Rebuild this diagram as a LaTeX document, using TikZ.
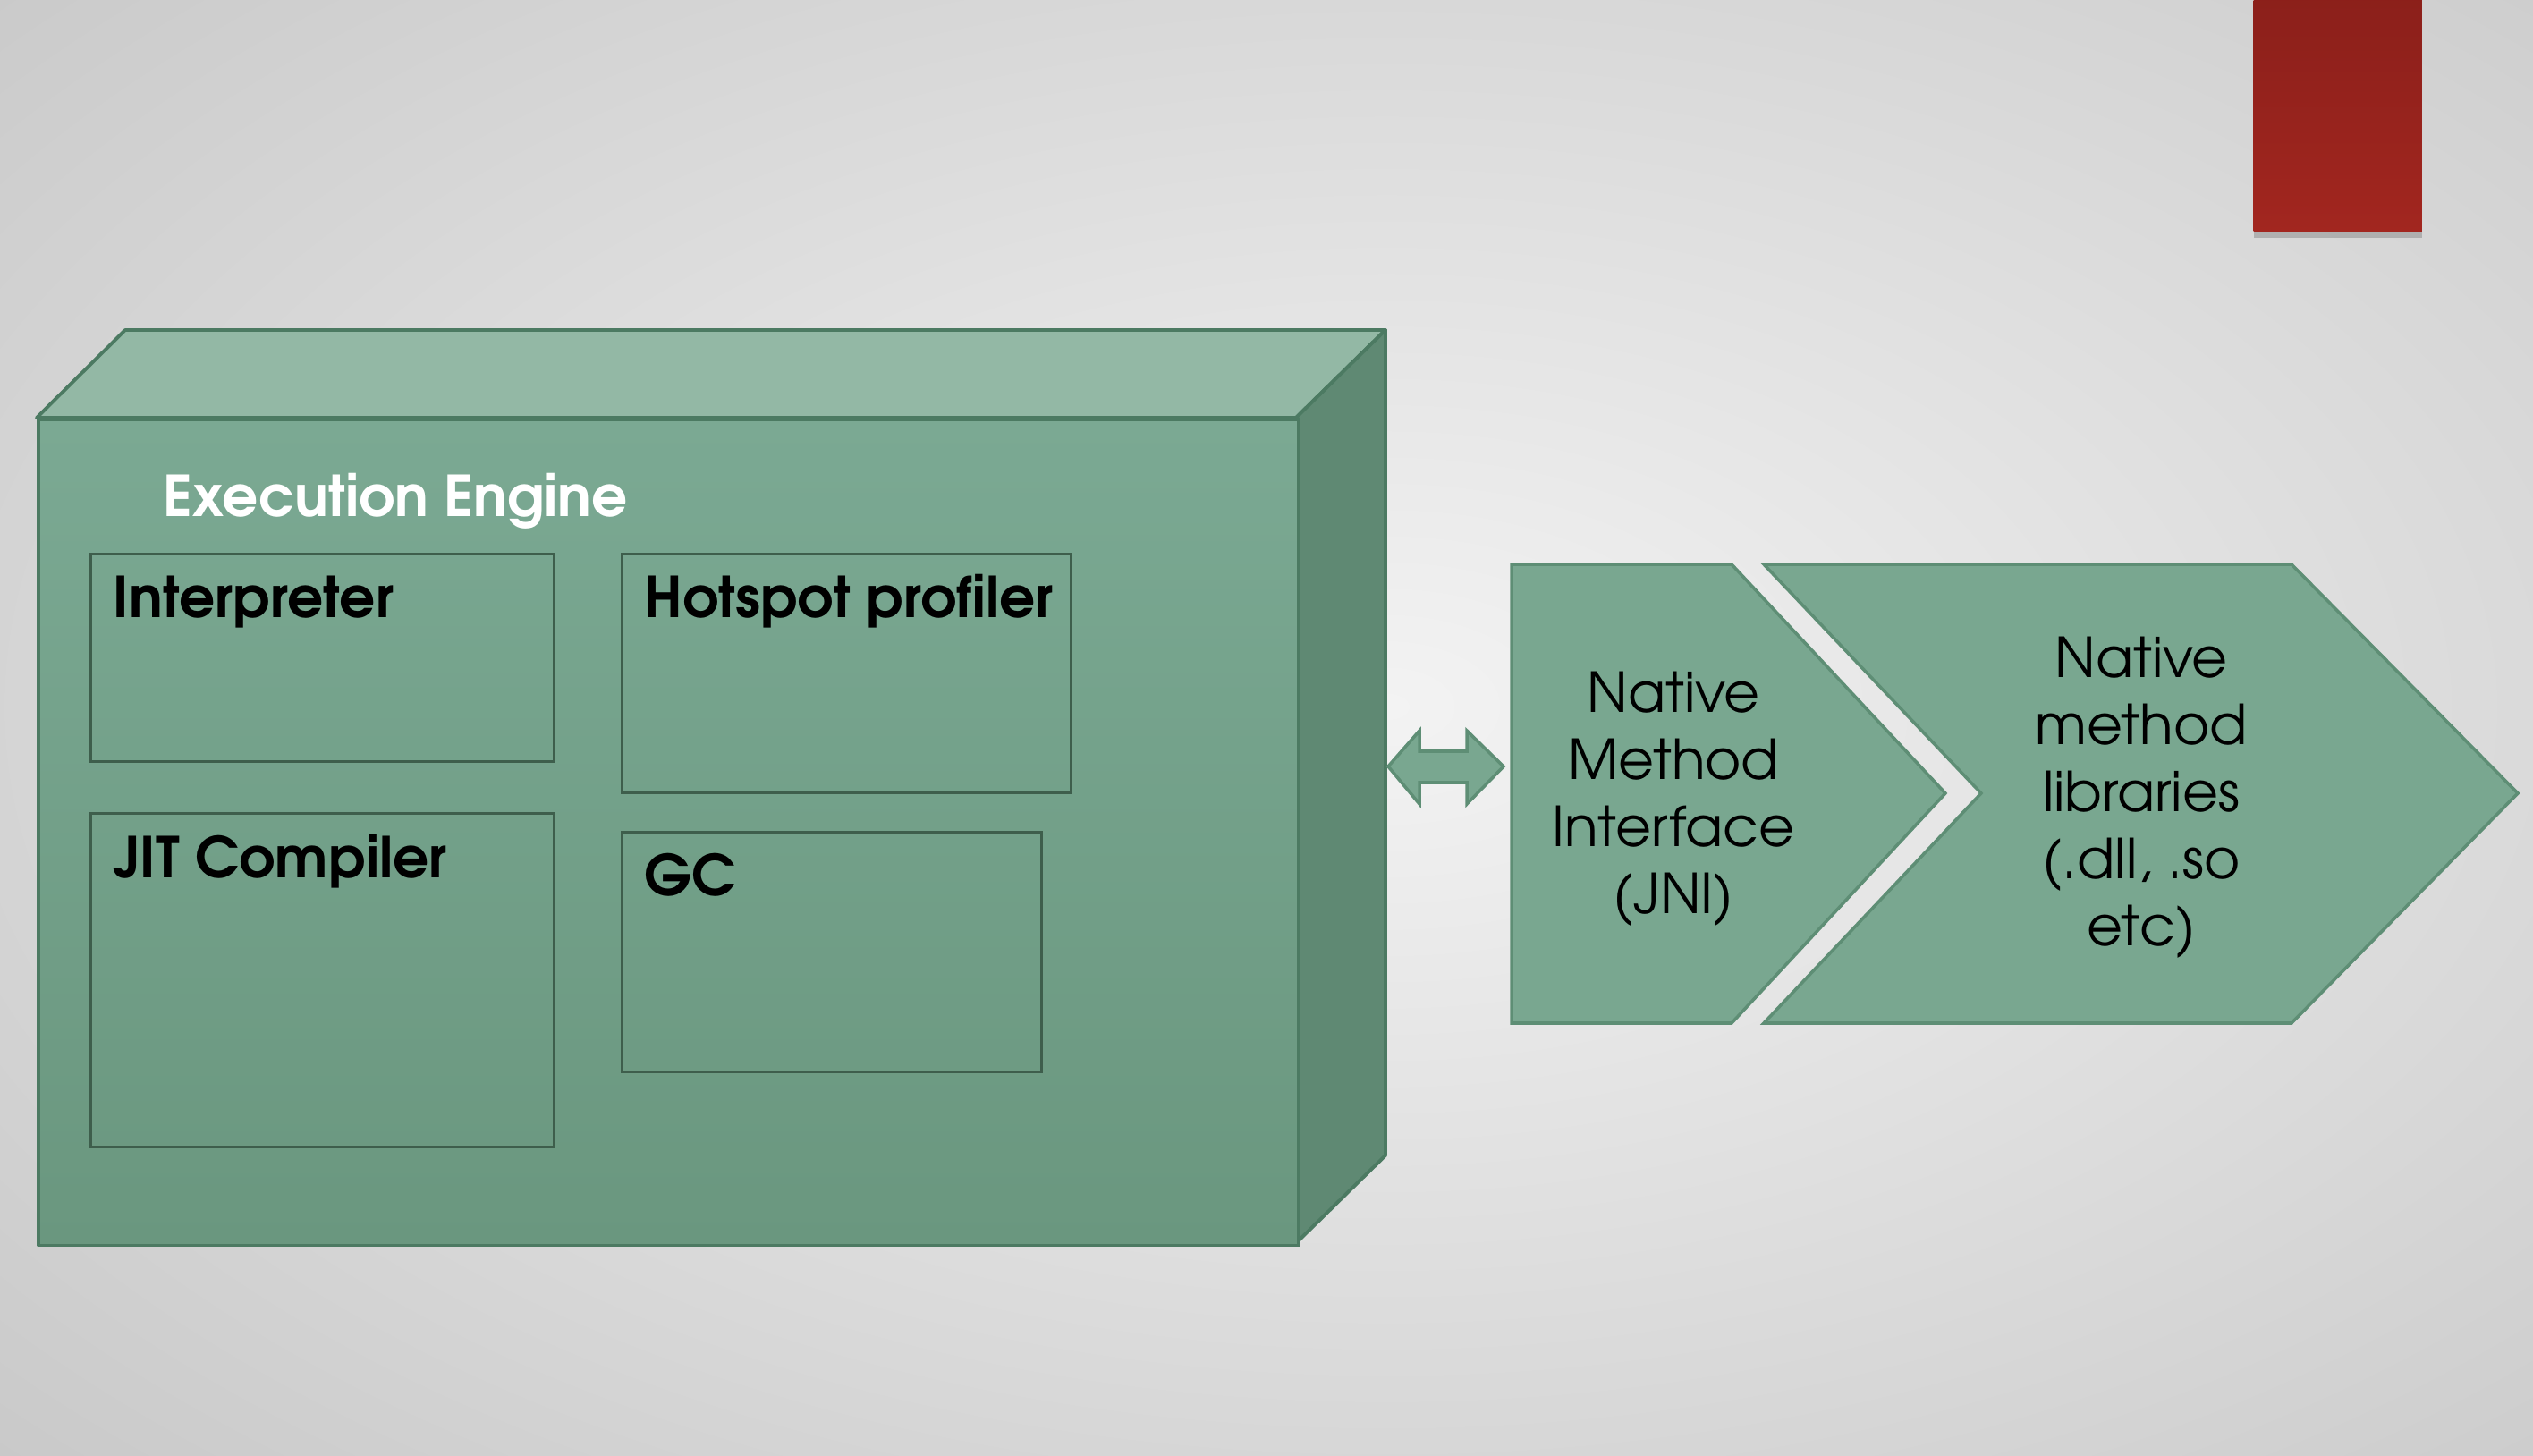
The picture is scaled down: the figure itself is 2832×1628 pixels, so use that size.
\documentclass[tikz,border=0pt]{standalone}
\usepackage{fontspec}
\setmainfont{texgyreadventor}[Extension=.otf, UprightFont=*-regular, BoldFont=*-bold]
\usetikzlibrary{shadows}
\definecolor{bgin}{HTML}{F3F3F3}
\definecolor{bgout}{HTML}{A8A8A8}
\definecolor{fronttop}{HTML}{7BA993}
\definecolor{frontbot}{HTML}{6A977F}
\definecolor{topface}{HTML}{93B8A5}
\definecolor{sideface}{HTML}{5F8973}
\definecolor{edge}{HTML}{4C7A62}
\definecolor{boxline}{HTML}{3E5E4C}
\definecolor{chev}{HTML}{79A790}
\definecolor{chevline}{HTML}{5E8E75}
\definecolor{redtop}{HTML}{8A1F1A}
\definecolor{redbot}{HTML}{A2261F}
\begin{document}
\begin{tikzpicture}[x=0.01cm,y=-0.01cm,
  lbl/.style={anchor=base west, font=\bfseries\fontsize{17.9}{21}\selectfont, text=black, inner sep=0pt},
  inbox/.style={draw=boxline, line width=0.9pt, anchor=north west, inner sep=0pt},
  face/.style={draw=edge, line width=1.1pt, line join=round},
  chevron/.style={fill=chev, draw=chevline, line width=1pt, line join=miter},
  body/.style={align=center, font=\fontsize{17.5}{21.3}\selectfont, text=black, inner sep=0pt}]
\useasboundingbox (0,0) rectangle (2832,1628);
\begin{scope}
  \clip (0,0) rectangle (2832,1628);
  \shade[inner color=bgin, outer color=bgout] (1550,790) ellipse (3800 and 2200);
\end{scope}
% red tab
\node[anchor=north west, minimum width=1.88cm, minimum height=2.78cm, inner sep=0pt,
      top color=redtop, bottom color=redbot,
      drop shadow={opacity=0.45, shadow xshift=0pt, shadow yshift=-0.07cm}] (tab) at (2519,-20) {};
% execution engine box
\draw[face, fill=topface] (41,467) -- (140,369) -- (1549,369) -- (1449,467) -- cycle;
\draw[face, fill=sideface] (1449,467) -- (1549,369) -- (1549,1292) -- (1449,1390) -- cycle;
\node[face, anchor=north west, inner sep=0pt, minimum width=14.08cm, minimum height=9.23cm,
      top color=fronttop, bottom color=frontbot] (engine) at (41,467) {};
\node[anchor=base west, inner sep=0pt, text=white, font=\bfseries\fontsize{17.9}{21}\selectfont] (title) at (182,578) {Execution Engine};
\node[inbox, minimum width=5.18cm, minimum height=2.32cm] (interp) at (100,618) {};
\node[inbox, minimum width=5.02cm, minimum height=2.67cm] (hotspot) at (694,618) {};
\node[inbox, minimum width=5.18cm, minimum height=3.73cm] (jit) at (100,908) {};
\node[inbox, minimum width=4.69cm, minimum height=2.68cm] (gc) at (694,929) {};
\node[lbl] (interpL) at (126,691) {Interpreter};
\node[lbl] (hotspotL) at (720,691) {Hotspot profiler};
\node[lbl] (jitL) at (126,982) {JIT Compiler};
\node[lbl] (gcL) at (720,1002) {GC};
% double arrow
\draw[chevron] (1552,857) -- (1587,817) -- (1587,840) -- (1640,840) -- (1640,817)
  -- (1681,857) -- (1640,899) -- (1640,875) -- (1587,875) -- (1587,899) -- cycle;
% chevrons
\draw[chevron] (1690,631) -- (1936,631) -- (2175,887) -- (1936,1144) -- (1690,1144) -- cycle;
\draw[chevron] (1972,631) -- (2562,631) -- (2815,887) -- (2562,1144) -- (1972,1144) -- (2215,887) -- cycle;
\node[body] (jni) at (1871,893) {Native\\Method\\Interface\\(JNI)};
\node[body] (libs) at (2394,892) {Native\\method\\libraries\\(.dll, .so\\etc)};
\end{tikzpicture}
\end{document}
